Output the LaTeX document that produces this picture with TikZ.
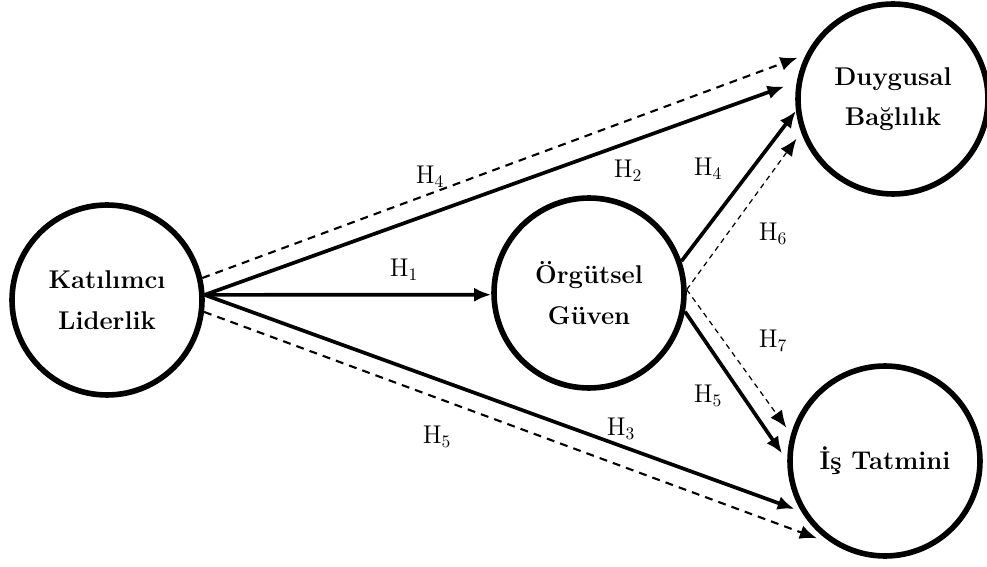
\documentclass[tikz,border=0pt]{standalone}
\usepackage{fontspec}
\usetikzlibrary{arrows.meta}

\begin{document}
\begin{tikzpicture}[
  x=0.02cm, y=-0.02cm,
  construct/.style={circle, draw, line width=3.2pt, minimum size=3.8cm,
    inner sep=0pt, align=center, font=\fontsize{14.6}{23}\selectfont\bfseries},
  hyp/.style={font=\fontsize{14.6}{17}\selectfont, inner sep=1pt},
  arrow/.style={-{Latex[length=0.34cm, width=0.28cm]}, line width=2.1pt},
  dasharrow/.style={arrow, line width=1.2pt, dash pattern=on 4.5pt off 3.5pt},
  thinarrow/.style={arrow, line width=0.7pt, dash pattern=on 3pt off 2.5pt}]
  \useasboundingbox (0,0) rectangle (987,567);
  \node[construct] (kl) at (107,300) {Katılımcı\\Liderlik};
  \node[construct] (og) at (589,293) {Örgütsel\\Güven};
  \node[construct] (db) at (893,99) {Duygusal\\Bağlılık};
  \node[construct] (it) at (885,461) {İş Tatmini};
  % katilimci liderlik
  \draw[arrow] (kl.3) -- (og.181);
  \draw[arrow, shorten >=0.26cm] (kl.3) -- (db.170);
  \draw[dasharrow, shorten >=0.18cm] (kl.13) -- (db.153);
  \draw[arrow, shorten >=0.14cm] (kl.3) -- (it.211);
  \draw[dasharrow, shorten >=0.38cm] (kl.-7) -- (it.239);
  % orgutsel guven
  \draw[arrow] (og.19) -- (db.-173);
  \draw[thinarrow, shorten >=0.16cm] (og.2) -- (db.200);
  \draw[thinarrow, shorten >=0.16cm] (og.2) -- (it.164);
  \draw[arrow, shorten >=0.18cm] (og.-11) -- (it.180);
  % hipotezler
  \node[hyp] (h1) at (404,270) {H$_1$};
  \node[hyp] (h2) at (628,171) {H$_2$};
  \node[hyp] (h3) at (621,429) {H$_3$};
  \node[hyp] (h4a) at (430,177) {H$_4$};
  \node[hyp] (h4b) at (708,169) {H$_4$};
  \node[hyp] (h5a) at (437,437) {H$_5$};
  \node[hyp] (h5b) at (708,396) {H$_5$};
  \node[hyp] (h6) at (773,234) {H$_6$};
  \node[hyp] (h7) at (773,341) {H$_7$};
\end{tikzpicture}
\end{document}
